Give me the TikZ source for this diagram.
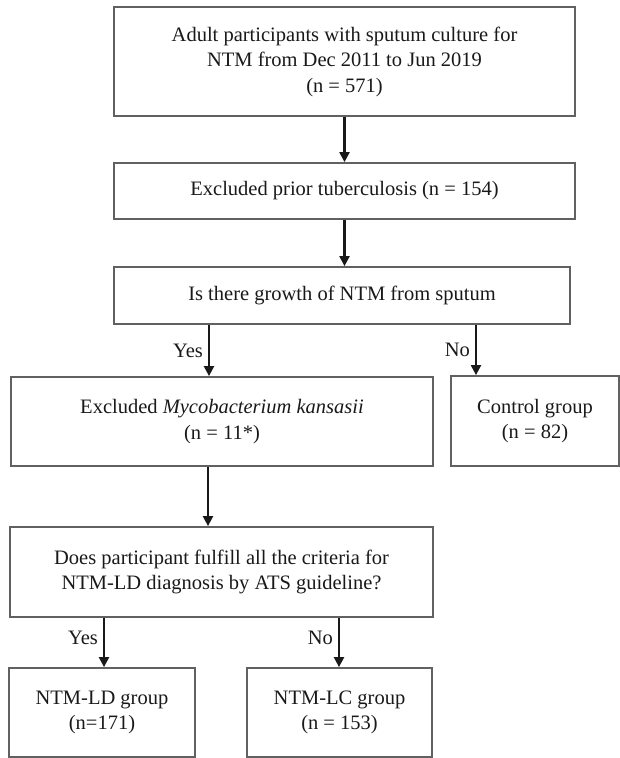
\documentclass[tikz,border=0pt]{standalone}
\usepackage{fontspec}
\setmainfont{Liberation Serif}
\usetikzlibrary{arrows.meta}
\begin{document}
\begin{tikzpicture}[x=1pt,y=-1pt,
  box/.style={draw=black!62, line width=1.8pt, align=center, inner sep=0pt,
    font=\fontsize{20.5}{25.5}\selectfont, text=black!90},
  arr/.style={draw=black!90, line width=2.2pt, -{Triangle[width=10pt,length=10pt]}},
  lbl/.style={font=\fontsize{20.5}{25.5}\selectfont, text=black!90, inner sep=1pt}]
\useasboundingbox (0,0) rectangle (620,758);
\node[box, minimum width=461, minimum height=109] (b1) at (344.5,61.5)
  {Adult participants with sputum culture for\\NTM from Dec 2011 to Jun 2019\\(n = 571)};
\node[box, minimum width=461, minimum height=56] (b2) at (344.5,191)
  {Excluded prior tuberculosis (n = 154)};
\node[box, minimum width=456, minimum height=57] (b3) at (342,295.5)
  {Is there growth of NTM from sputum};
\node[box, minimum width=422, minimum height=89] (b4) at (222,421.5)
  {Excluded \textit{Mycobacterium kansasii}\\(n = 11*)};
\node[box, minimum width=168, minimum height=90] (b5) at (535,421)
  {Control group\\(n = 82)};
\node[box, minimum width=423, minimum height=90] (b6) at (221.5,572)
  {Does participant fulfill all the criteria for\\NTM-LD diagnosis by ATS guideline?};
\node[box, minimum width=186, minimum height=89] (b7) at (102,712.5)
  {NTM-LD group\\(n=171)};
\node[box, minimum width=185, minimum height=89] (b8) at (339.5,712.5)
  {NTM-LC group\\(n = 153)};
\coordinate (cyes) at (209,0);
\coordinate (cno) at (476,0);
\coordinate (cmid) at (208,0);
\coordinate (cyes2) at (104,0);
\coordinate (cno2) at (339,0);
\draw[arr] (b1.south) -- (b2.north);
\draw[arr] (b2.south) -- (b2.south |- b3.north);
\draw[arr] (cyes |- b3.south) -- node[lbl, midway, left=4pt] {Yes} (cyes |- b4.north);
\draw[arr] (cno |- b3.south) -- node[lbl, midway, left=4pt] {No} (cno |- b5.north);
\draw[arr] (cmid |- b4.south) -- (cmid |- b6.north);
\draw[arr] (cyes2 |- b6.south) -- node[lbl, pos=0.4, left=4pt] {Yes} (cyes2 |- b7.north);
\draw[arr] (cno2 |- b6.south) -- node[lbl, pos=0.4, left=4pt] {No} (cno2 |- b8.north);
\end{tikzpicture}
\end{document}
